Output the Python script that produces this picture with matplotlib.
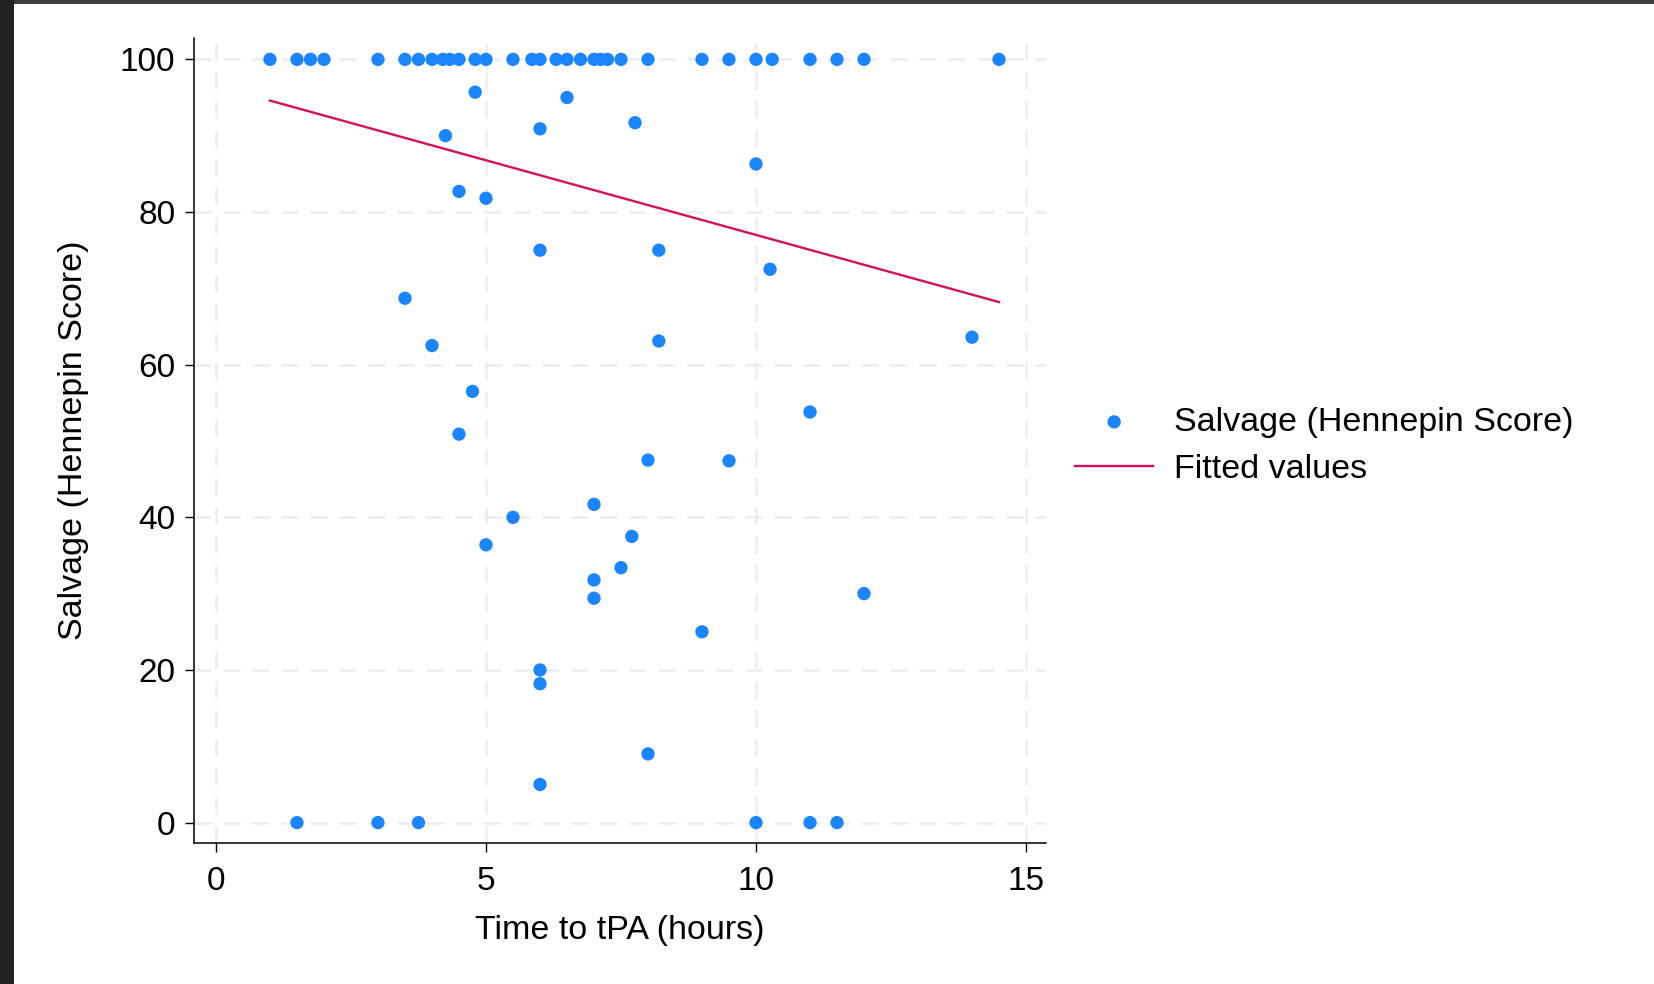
import matplotlib
matplotlib.use("Agg")
import matplotlib.pyplot as plt
from matplotlib.patches import Rectangle

plt.rcParams['font.family'] = ['Liberation Sans', 'DejaVu Sans']

# time to tPA (hours) and salvage score
time_hours = [1.0, 1.5, 1.75, 2.0, 3.0, 3.5, 3.75, 4.0, 4.2, 4.33, 4.5, 4.8, 5.0,
              5.5, 5.85, 6.0, 6.3, 6.5, 6.75, 7.0, 7.12, 7.25, 7.5, 8.0, 9.0, 9.5,
              10.0, 10.3, 11.0, 11.5, 12.0, 14.5,
              4.8, 6.5, 4.25, 6.0, 7.76, 10.0, 4.5, 5.0, 6.0, 8.2, 10.26, 3.5,
              4.0, 8.2, 14.0, 4.75, 4.5, 11.0, 8.0, 9.5, 7.0, 5.5, 7.7, 5.0,
              7.5, 7.0, 7.0, 12.0, 9.0, 6.0, 6.0, 8.0, 6.0,
              1.5, 3.0, 3.75, 10.0, 11.0, 11.5]
salvage = [100] * 32 + \
          [95.7, 95.0, 90.0, 90.9, 91.7, 86.3, 82.7, 81.8, 75.0, 75.0, 72.5, 68.7,
           62.5, 63.1, 63.6, 56.5, 50.9, 53.8, 47.5, 47.4, 41.7, 40.0, 37.5, 36.4,
           33.4, 31.8, 29.4, 30.0, 25.0, 20.0, 18.2, 9.0, 5.0,
           0, 0, 0, 0, 0, 0]

# fitted line end points
fit_x = [1.0, 14.5]
fit_y = [94.6, 68.2]

x_ticks = [0, 5, 10, 15]
y_ticks = [0, 20, 40, 60, 80, 100]

fig = plt.figure(figsize=(16.54, 9.84), dpi=100)
fig.patch.set_facecolor('white')
# dark window edges at top and left
fig.patches.append(Rectangle((0, 1 - 4 / 984), 1, 4 / 984, transform=fig.transFigure,
                             facecolor='#3c3c3c', edgecolor='none'))
fig.patches.append(Rectangle((0, 0), 14 / 1654, 1, transform=fig.transFigure,
                             facecolor='#222222', edgecolor='none'))

ax = fig.add_axes([194 / 1654, 1 - 843 / 984, 852 / 1654, 805 / 984])
ax.set_facecolor('white')

grid_style = dict(color='#ededed', lw=1.8, linestyle=(0, (6.8, 4.8)), zorder=1)
for t in x_ticks:
    ax.axvline(t, **grid_style)
for t in y_ticks:
    ax.axhline(t, **grid_style)

ax.scatter(time_hours, salvage, s=92, color='#1a85ff', edgecolors='none', zorder=3,
           label='Salvage (Hennepin Score)')
ax.plot(fit_x, fit_y, color='#d41159', lw=1.7, zorder=2, label='Fitted values')

ax.set_xlim(-0.407, 15.37)
ax.set_ylim(-2.67, 102.8)
ax.set_xticks(x_ticks)
ax.set_yticks(y_ticks)
ax.tick_params(labelsize=24, length=6.5, width=1.0, color='black')
ax.tick_params(axis='x', pad=10)
ax.tick_params(axis='y', pad=7)
for side in ['top', 'right']:
    ax.spines[side].set_visible(False)
for side in ['left', 'bottom']:
    ax.spines[side].set_linewidth(1.1)

ax.set_xlabel('Time to tPA (hours)', fontsize=24.5, labelpad=13)
ax.set_ylabel('Salvage (Hennepin Score)', fontsize=24.5, labelpad=22)

ax.legend(loc='center left', bbox_to_anchor=(1075 / 1654, 1 - 446 / 984),
          bbox_transform=fig.transFigure, frameon=False, fontsize=24.5,
          handlelength=2.3, handletextpad=0.62, labelspacing=0.48,
          borderpad=0, borderaxespad=0, scatterpoints=1, markerscale=1.0)

fig.savefig('out.png', dpi=100, facecolor=fig.get_facecolor())
